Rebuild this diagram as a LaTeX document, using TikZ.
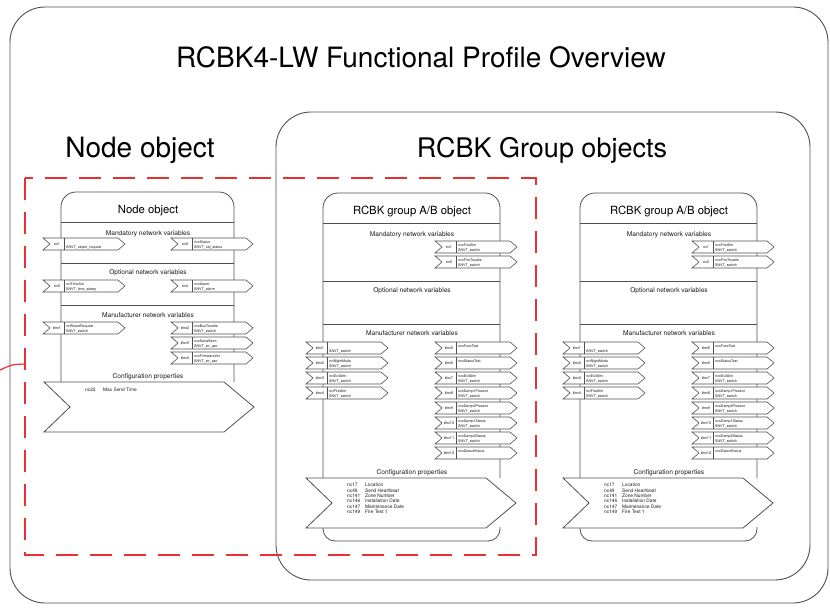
\documentclass[tikz,border=0pt]{standalone}
\usepackage{fontspec}
\setmainfont{TeX Gyre Heros}
\usetikzlibrary{calc}
\definecolor{ln}{HTML}{505050}
\definecolor{rd}{HTML}{E83030}
\definecolor{tx}{HTML}{1A1A1A}
\tikzset{
 outerbox/.style={draw=ln, line width=0.9pt, rounded corners=35pt},
 panelline/.style={draw=ln, line width=0.8pt},
 nvshape/.style={draw=ln, fill=white, line width=0.6pt, line join=miter},
 nvsep/.style={draw=ln, line width=0.6pt},
 nvlab/.style={inner sep=0pt, font=\fontsize{3.8}{4}\selectfont, text=tx},
 nvtxt/.style={inner sep=0pt, anchor=base west, font=\fontsize{3.6}{4}\selectfont, text=tx},
 bigtitle/.style={inner sep=0pt, anchor=base, font=\fontsize{28}{30}\selectfont, text=black},
 ptitle/.style={inner sep=0pt, anchor=base, font=\fontsize{11.3}{13}\selectfont, text=black},
 sect/.style={inner sep=0pt, anchor=base, font=\fontsize{6.6}{8}\selectfont, text=tx},
 cfgshape/.style={draw=ln, fill=white, line width=0.8pt, line join=miter},
 cfgtxt/.style={inner sep=0pt, anchor=north west, align=left, font=\fontsize{4.8}{5.4}\selectfont, text=tx},
 reddash/.style={draw=rd, line width=1.2pt, dash pattern=on 22pt off 12pt},
}
% #1 name, #2 left x, #3 top y, #4 label, #5 line 1, #6 line 2
\newcommand\nvar[6]{%
  \begin{scope}[shift={(#2,#3)}]
    \draw[nvshape] (0,0) -- (75,0) -- (82,6) -- (75,12) -- (0,12) -- (7,6) -- cycle;
    \draw[nvsep] (21,0) -- (21,12);
    \node[nvlab] (#1) at (14,6) {#4};
    \node[nvtxt] (#1-a) at (23,5) {#5};
    \node[nvtxt] (#1-b) at (23,10.2) {#6};
  \end{scope}}
% #1 name, #2 left x, #3 top y
\newcommand\cfgar[3]{%
  \begin{scope}[shift={(#2,#3)}]
    \draw[cfgshape] (0,0) -- (180,0) -- (210,25) -- (180,50) -- (0,50) -- (26,25) -- cycle;
    \coordinate (#1) at (105,25);
  \end{scope}}
\newcommand\ncl[2]{\makebox[18pt][l]{#1}#2}
% group panel: #1 prefix, #2 left x
\newcommand\grouppanel[2]{%
  \begin{scope}[shift={(#2,0)}]
    \draw[panelline, rounded corners=15pt] (0,478) -- (0,193) -- (177,193) -- (177,478);
    \draw[panelline, rounded corners=12pt] (0,527) -- (0,541) -- (177,541) -- (177,527);
    \draw[panelline] (0,223) -- (177,223);
    \draw[panelline] (0,281) -- (177,281);
    \draw[panelline] (0,324) -- (177,324);
    \node[ptitle] (#1-title) at (89,214) {RCBK group A/B object};
    \node[sect] (#1-mand) at (89,236) {Mandatory network variables};
    \node[sect] (#1-opt) at (89,292) {Optional network variables};
    \node[sect] (#1-man) at (89,335) {Manufacturer network variables};
    \node[sect] (#1-cfg) at (89,474) {Configuration properties};
    \nvar{#1-nv1}{112}{241}{nv1}{nvoFireAlm}{SNVT\_switch}
    \nvar{#1-nv2}{112}{256}{nv2}{nvoFireTrouble}{SNVT\_switch}
    \nvar{#1-m1}{-17}{342}{\#nv1}{}{SNVT\_switch}
    \nvar{#1-m2}{-17}{357}{\#nv2}{nviNightMode}{SNVT\_switch}
    \nvar{#1-m3}{-17}{372}{\#nv3}{nviExitAlm}{SNVT\_switch}
    \nvar{#1-m4}{-17}{387}{\#nv4}{nviFireAlm}{SNVT\_switch}
    \nvar{#1-m5}{112}{342}{\#nv5}{nvoFuncTest}{}
    \nvar{#1-m6}{112}{357}{\#nv6}{nvoStatusTest}{}
    \nvar{#1-m7}{112}{372}{\#nv7}{nvoExitAlm}{SNVT\_switch}
    \nvar{#1-m8}{112}{387}{\#nv8}{nvoDamp1Present}{SNVT\_switch}
    \nvar{#1-m9}{112}{402}{\#nv9}{nvoDamp2Present}{SNVT\_switch}
    \nvar{#1-m10}{112}{417}{\#nv10}{nvoDamp1Status}{SNVT\_switch}
    \nvar{#1-m11}{112}{432}{\#nv11}{nvoDamp2Status}{SNVT\_switch}
    \nvar{#1-m12}{112}{447}{\#nv12}{nvoDetectStatus}{}
    \cfgar{#1-cfgar}{-17}{478}
    \node[cfgtxt] (#1-cp) at (24,483) {\ncl{nc17}{Location}\\\ncl{nc49}{Send Heartbeat}\\\ncl{nc141}{Zone Number}\\\ncl{nc146}{Installation Date}\\\ncl{nc147}{Maintenance Date}\\\ncl{nc149}{Fire Test 1}};
  \end{scope}}
\begin{document}
\begin{tikzpicture}[x=1pt, y=-1pt]
\useasboundingbox (0,0) rectangle (830,610);
\fill[white] (0,0) rectangle (830,610);
% outer boxes
\draw[outerbox] (10,7) rectangle (828,603);
\node[bigtitle] (title) at (421,67) {RCBK4-LW Functional Profile Overview};
\draw[outerbox] (276,112) rectangle (810,580);
\node[bigtitle] (nodehead) at (140,157) {Node object};
\node[bigtitle, font=\fontsize{27}{30}\selectfont] (grouphead) at (542,157) {RCBK Group objects};
% node object panel
\draw[panelline, rounded corners=15pt] (61,382) -- (61,192) -- (234,192) -- (234,382);
\draw[panelline] (61,222) -- (234,222);
\draw[panelline] (61,263) -- (234,263);
\draw[panelline] (61,305) -- (234,305);
\node[ptitle] (np-title) at (148,213) {Node object};
\node[sect] (np-mand) at (148,235) {Mandatory network variables};
\node[sect] (np-opt) at (148,274) {Optional network variables};
\node[sect] (np-man) at (148,317) {Manufacturer network variables};
\node[sect] (np-cfg) at (148,378) {Configuration properties};
\nvar{np-nv1}{43}{238}{nv1}{}{SNVT\_object\_request}
\nvar{np-nv2}{171}{238}{nv2}{nvoStatus}{SNVT\_obj\_status}
\nvar{np-nv3}{43}{280}{nv3}{nviTimeSet}{SNVT\_time\_stamp}
\nvar{np-nv4}{171}{280}{nv4}{nvoAlarm}{SNVT\_alarm}
\nvar{np-m1}{43}{322}{\#nv1}{nviResetRequest}{SNVT\_switch}
\nvar{np-m2}{171}{322}{\#nv2}{nvoBusTrouble}{SNVT\_switch}
\nvar{np-m3}{171}{337}{\#nv3}{nvoSerialNum}{SNVT\_str\_asc}
\nvar{np-m4}{171}{352}{\#nv4}{nvoFirmwareVer}{SNVT\_str\_asc}
\cfgar{np-cfgar}{44}{382}
\node[cfgtxt] (np-cp) at (85,388) {\ncl{nc22}{Max Send Time}};
% group panels
\grouppanel{ga}{323}
\grouppanel{gb}{580}
% red dashed frame and its connector
\draw[reddash] (25,178) rectangle (536,555);
\coordinate (redA) at (25,364);
\coordinate (redB) at (0,370);
\draw[draw=rd, line width=1.2pt] (redA) .. controls (12,364.5) .. (redB);
\end{tikzpicture}
\end{document}
